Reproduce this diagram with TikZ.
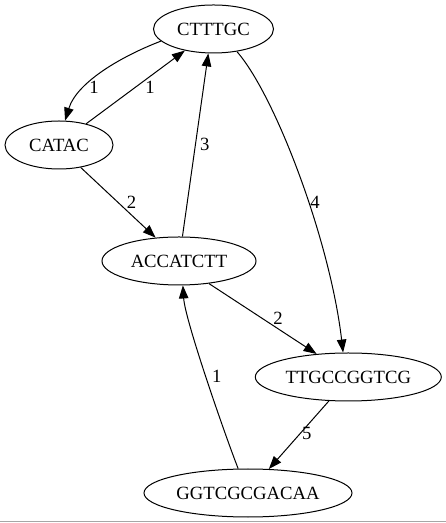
\documentclass[tikz,border=0pt]{standalone}
\usepackage{fontspec}
\setmainfont{Liberation Serif}
\usetikzlibrary{arrows.meta,shapes.geometric}
\begin{document}
\begin{tikzpicture}[x=1bp,y=1bp,
  state/.style={ellipse,draw,line width=1bp,inner sep=0pt,minimum height=48bp,
    font=\fontsize{18.67bp}{22bp}\selectfont},
  edge/.style={line width=1bp,-{Triangle[length=13bp,width=9.5bp]}},
  lbl/.style={inner sep=0pt,font=\fontsize{18.67bp}{22bp}\selectfont}]
\useasboundingbox (0,0) rectangle (446,523);
\draw[gray!70,line width=1.5bp] (0,1.5) -- (446,1.5);
% nodes
\node[state,minimum width=120bp] (A) at (213.5,494) {CTTTGC};
\node[state,minimum width=108bp] (B) at (59,378) {CATAC};
\node[state,minimum width=154bp] (C) at (179,262) {ACCATCTT};
\node[state,minimum width=186bp] (D) at (348.3,146) {TTGCCGGTCG};
\node[state,minimum width=208bp] (E) at (248,30) {GGTCGCGACAA};
% edges
\draw[edge] (A.193) .. controls (122,467) and (77,441) .. (B.76);
\draw[edge] (B.38) -- (A.217);
\draw[edge] (B.314) -- (C.135);
\draw[edge] (C.82) -- (A.258);
\draw[edge] (A.316) .. controls (275,428) and (330,283) .. (D.102);
\draw[edge] (C.323) -- (D.144);
\draw[edge] (D.231) -- (E.49);
\draw[edge] (E.112) .. controls (225,88) and (185,203) .. (C.279);
% labels
\node[lbl] (l1) at (94,436) {1};
\node[lbl] (l2) at (150,436) {1};
\node[lbl] (l3) at (131.5,321) {2};
\node[lbl] (l4) at (204.7,378.7) {3};
\node[lbl] (l5) at (315,320.5) {4};
\node[lbl] (l6) at (278,204.7) {2};
\node[lbl] (l7) at (306.7,89.7) {5};
\node[lbl] (l8) at (216.7,146.3) {1};
\end{tikzpicture}
\end{document}
